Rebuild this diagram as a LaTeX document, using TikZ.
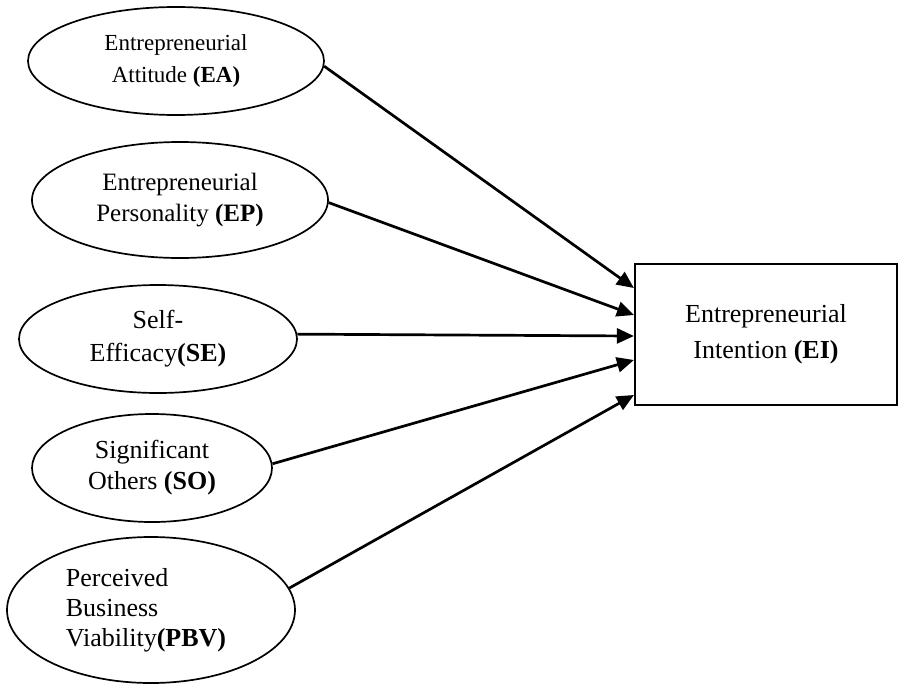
\documentclass[tikz,border=0pt]{standalone}
\usepackage{fontspec}
\setmainfont{Liberation Serif}
\usetikzlibrary{shapes.geometric,arrows.meta}
\begin{document}
\begin{tikzpicture}[x=1pt,y=-1pt,
  construct/.style={ellipse,draw,line width=1.7pt,inner sep=0pt,align=center},
  target/.style={draw,line width=2.2pt,inner sep=0pt,align=center},
  link/.style={line width=2.7pt,-{Triangle[length=17pt,width=15pt]}}]
\useasboundingbox (0,0) rectangle (899,683);

% antecedent constructs
\node[construct,minimum width=296pt,minimum height=108pt,
      font=\fontsize{23}{32}\selectfont] (ea) at (176,61)
  {Entrepreneurial\\Attitude \textbf{(EA)}};
\node[construct,minimum width=296pt,minimum height=116pt,
      font=\fontsize{25}{31}\selectfont] (ep) at (180,200)
  {Entrepreneurial\\Personality \textbf{(EP)}};
\node[construct,minimum width=278pt,minimum height=108pt,
      font=\fontsize{26}{33}\selectfont] (se) at (158,339)
  {Self-\\Efficacy\textbf{(SE)}};
\node[construct,minimum width=240pt,minimum height=108pt,
      font=\fontsize{26}{31}\selectfont] (so) at (152,468)
  {Significant\\Others \textbf{(SO)}};
\node[construct,align=left,minimum width=288pt,minimum height=146pt,
      font=\fontsize{26}{30}\selectfont] (pbv) at (151,610)
  {Perceived\\Business\\Viability\textbf{(PBV)}\hspace*{10pt}};

% outcome construct
\node[target,minimum width=262pt,minimum height=141pt,
      font=\fontsize{26}{36}\selectfont] (ei) at (766,334.5)
  {Entrepreneurial\\Intention \textbf{(EI)}};

% structural paths
\draw[link] (ea.-2)  -- ([yshift=46.5pt]ei.west);
\draw[link] (ep.-1)  -- ([yshift=19.5pt]ei.west);
\draw[link] (se.2)   -- ([yshift=-1.5pt]ei.west);
\draw[link] (so.2)   -- ([yshift=-25.5pt]ei.west);
\draw[link] (pbv.9)  -- ([yshift=-60.5pt]ei.west);
\end{tikzpicture}
\end{document}
